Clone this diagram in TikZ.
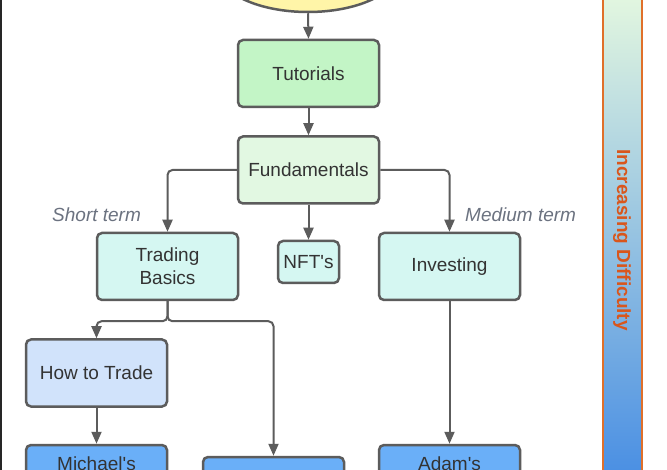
\documentclass[tikz,border=0pt]{standalone}
\usepackage{fontspec}
\setmainfont{Liberation Sans}
\usetikzlibrary{arrows.meta,shapes.geometric}
\definecolor{bordergray}{HTML}{5C5C5C}
\definecolor{txtgray}{HTML}{333333}
\definecolor{lblgray}{HTML}{6B7280}
\definecolor{yellowfill}{HTML}{FFF5A8}
\definecolor{greenA}{HTML}{C3F5C6}
\definecolor{greenB}{HTML}{E2F8E2}
\definecolor{cyanfill}{HTML}{D5F7F2}
\definecolor{lightblue}{HTML}{D1E3FB}
\definecolor{bluefill}{HTML}{6AAFF8}
\definecolor{orangeline}{HTML}{E0702A}
\definecolor{orangetext}{HTML}{D9561C}
\definecolor{bartop}{HTML}{E3F7E0}
\definecolor{barbottom}{HTML}{4A8FE3}
\tikzset{
  box/.style={draw=bordergray, line width=2.5pt, rounded corners=5pt,
    minimum width=141pt, minimum height=67pt, inner sep=0pt,
    text=txtgray, align=center, font=\fontsize{19}{23}\selectfont},
  conn/.style={draw=bordergray, line width=2pt, rounded corners=5pt,
    -{Triangle[length=12pt,width=10pt]}},
  termlbl/.style={text=lblgray, font=\fontsize{19}{23}\selectfont\itshape, inner sep=0pt}
}
\begin{document}
\begin{tikzpicture}[x=1pt,y=-1pt]
\useasboundingbox (0,0) rectangle (667,470);
\clip (0,0) rectangle (667,470);
\fill[white] (0,0) rectangle (667,470);

% difficulty bar
\draw[orangeline, line width=1.5pt, top color=bartop, middle color=white, bottom color=barbottom]
  (603,-5) rectangle (642,475);
\node[rotate=-90, text=orangetext, font=\fontsize{19}{23}\selectfont\bfseries, inner sep=0pt] (diff) at (622,240) {Increasing Difficulty};

% left border line
\draw[line width=2.5pt, black!85] (1,-5) -- (1,475);

% nodes
\node[ellipse, draw=bordergray, line width=2.5pt, fill=yellowfill, minimum width=180pt, minimum height=84pt] (start) at (308,-30) {};
\node[box, fill=greenA] (tut) at (308.5,73.5) {Tutorials};
\node[box, fill=greenB] (fund) at (308.5,170) {Fundamentals};
\node[box, fill=cyanfill] (trad) at (167.5,266.5) {Trading\\Basics};
\node[box, fill=cyanfill, minimum width=61pt, minimum height=42pt] (nft) at (308.5,262) {NFT\textquotesingle s};
\node[box, fill=cyanfill] (inv) at (449.5,266.5) {Investing};
\node[box, fill=lightblue] (how) at (96.5,373) {How to Trade};
\node[box, fill=bluefill] (mich) at (96.5,478.5) {Michael\textquotesingle s\\\strut};
\node[box, fill=bluefill] (mid) at (273.5,490.5) {};
\node[box, fill=bluefill] (adam) at (449.5,478.5) {Adam\textquotesingle s\\\strut};

% term labels
\node[termlbl, anchor=west] (short) at (52,215) {Short term};
\node[termlbl, anchor=west] (medium) at (465,215) {Medium term};

% connectors
\draw[conn] (start.south) -- (tut.north);
\draw[conn] (tut.south) -- (fund.north);
\draw[conn] (fund.west) -| (trad.north);
\draw[conn] (fund.east) -| (inv.north);
\draw[conn] (fund.south) -- (nft.north);
\coordinate (split) at ([yshift=-20pt]trad.south);
\draw[conn] (trad.south) -- (split) -| (how.north);
\draw[conn] (trad.south) -- (split) -| (mid.north);
\draw[conn] (how.south) -- (mich.north);
\draw[conn] (inv.south) -- (adam.north);
\end{tikzpicture}
\end{document}
